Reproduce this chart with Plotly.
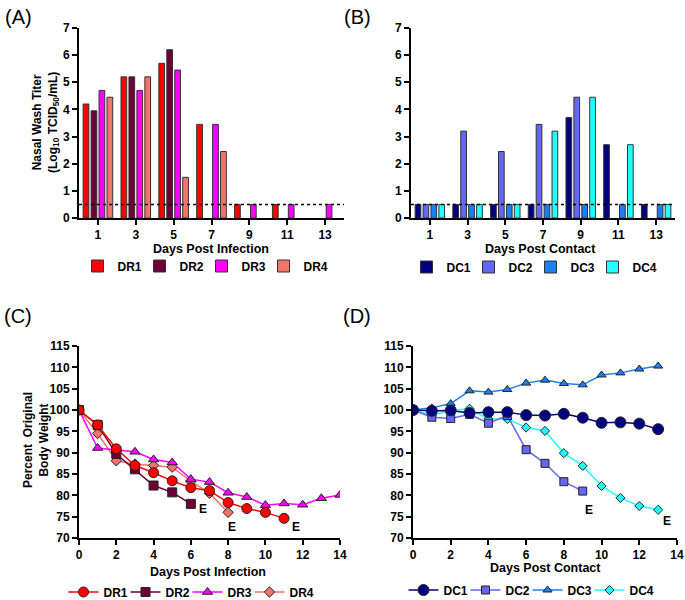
import plotly.graph_objects as go

# ---------------- data ----------------
bar_days = [1, 3, 5, 7, 9, 11, 13]
DR_names = ["DR1", "DR2", "DR3", "DR4"]
DR1_titer = [4.2, 5.2, 5.7, 3.45, 0.5, 0.5, None]
DR2_titer = [3.95, 5.2, 6.2, None, None, None, None]
DR3_titer = [4.7, 4.7, 5.45, 3.45, 0.5, 0.5, 0.5]
DR4_titer = [4.45, 5.2, 1.5, 2.45, None, None, None]

DC_names = ["DC1", "DC2", "DC3", "DC4"]
DC1_titer = [0.5, 0.5, 0.5, 0.5, 3.7, 2.7, 0.5]
DC2_titer = [0.5, 3.2, 2.45, 3.45, 4.45, None, None]
DC3_titer = [0.5, 0.5, 0.5, 0.5, 0.5, 0.5, 0.5]
DC4_titer = [0.5, 0.5, 0.5, 3.2, 4.45, 2.7, 0.5]

limit_of_detection = 0.5

DR1_days = list(range(0, 12))
DR1_weight = [100, 96.5, 90.9, 87.0, 85.3, 83.4, 81.8, 81.1, 78.3, 76.9, 76.0, 74.6]
DR2_days = list(range(0, 7))
DR2_weight = [100, 96.5, 89.7, 86.1, 82.3, 80.7, 78.0]
DR3_days = list(range(0, 15))
DR3_weight = [100, 91.1, 90.6, 90.2, 88.4, 87.7, 83.8, 83.1, 80.6, 79.6, 77.7, 78.1, 77.8, 79.3, 80.1]
DR4_days = list(range(0, 9))
DR4_weight = [100, 94.5, 88.1, 87.3, 87.0, 86.6, 83.3, 80.5, 76.0]

DC1_days = list(range(0, 14))
DC1_weight = [100, 99.8, 99.9, 99.3, 99.5, 99.5, 98.8, 98.7, 99.1, 98.2, 97.0, 97.1, 96.8, 95.5]
DC2_days = list(range(0, 10))
DC2_weight = [100, 98.3, 98.0, 99.0, 96.9, 98.7, 90.7, 87.5, 83.2, 81.0]
DC3_days = list(range(0, 14))
DC3_weight = [100, 100.5, 101.5, 104.5, 104.2, 104.8, 106.3, 107.0, 106.2, 105.9, 108.2, 108.7, 109.6, 110.3]
DC4_days = list(range(0, 14))
DC4_weight = [100, 98.8, 99.9, 100.3, 97.9, 97.9, 95.9, 95.1, 89.9, 86.9, 82.2, 79.4, 77.5, 76.6]

E_C = [(6.65, 76.8), (8.2, 72.6), (11.65, 72.6)]
E_D = [(9.35, 76.5), (13.45, 74.0)]

DR_colors = ["#FF0000", "#6E0038", "#FF00FF", "#F4736B"]
DC_colors = ["#000080", "#6666F5", "#1A80F5", "#22FFFF"]

W, H = 685, 600
def px(x): return x / W
def py(y): return 1 - y / H

FONT = "Liberation Sans, Arial, sans-serif"
tickfont = dict(family=FONT, size=12, color="black", weight="bold")

fig = go.Figure()

# ---------------- bars ----------------
for i, (name, vals, col) in enumerate(zip(DR_names, [DR1_titer, DR2_titer, DR3_titer, DR4_titer], DR_colors)):
    fig.add_trace(go.Bar(x=bar_days, y=vals, name=name, marker=dict(color=col, line=dict(color="#333333", width=1)),
                         xaxis="x", yaxis="y", legend="legend", offsetgroup=name,
                         legendwidth=30 if i == 3 else None))
for i, (name, vals, col) in enumerate(zip(DC_names, [DC1_titer, DC2_titer, DC3_titer, DC4_titer], DC_colors)):
    fig.add_trace(go.Bar(x=bar_days, y=vals, name=name, marker=dict(color=col, line=dict(color="#333333", width=1)),
                         xaxis="x2", yaxis="y2", legend="legend2", offsetgroup=name,
                         legendwidth=30 if i == 3 else None))

# ---------------- lines ----------------
DR_sym = ["circle", "square", "triangle-up", "diamond"]
DR_size = [10, 9, 9, 8]
DR_data = [(DR1_days, DR1_weight), (DR2_days, DR2_weight), (DR3_days, DR3_weight), (DR4_days, DR4_weight)]
for i in [3, 2, 1, 0]:
    fig.add_trace(go.Scatter(x=DR_data[i][0], y=DR_data[i][1], name=DR_names[i], mode="lines+markers",
                             line=dict(color=DR_colors[i], width=1.5),
                             marker=dict(symbol=DR_sym[i], size=DR_size[i], color=DR_colors[i], line=dict(color="#222222", width=1)),
                             xaxis="x3", yaxis="y3", legend="legend3", legendwidth=30 if i == 3 else None))
DC_sym = ["circle", "square", "triangle-up", "diamond"]
DC_size = [11, 8, 8, 7]
DC_data = [(DC1_days, DC1_weight), (DC2_days, DC2_weight), (DC3_days, DC3_weight), (DC4_days, DC4_weight)]
for i in [3, 2, 1, 0]:
    fig.add_trace(go.Scatter(x=DC_data[i][0], y=DC_data[i][1], name=DC_names[i], mode="lines+markers",
                             line=dict(color=DC_colors[i], width=1.5),
                             marker=dict(symbol=DC_sym[i], size=DC_size[i], color=DC_colors[i], line=dict(color="#222222", width=1)),
                             xaxis="x4", yaxis="y4", legend="legend4", legendwidth=30 if i == 3 else None))

# ---------------- axes ----------------
def xax(domain, anchor, tickvals, rng):
    return dict(domain=domain, anchor=anchor, range=rng, tickvals=tickvals, showline=True, linecolor="black",
                linewidth=2, ticks="outside", ticklen=5, tickwidth=2, tickcolor="black", showgrid=False,
                zeroline=False, tickfont=tickfont)
def yax(domain, anchor, rng, dtick):
    return dict(domain=domain, anchor=anchor, range=rng, dtick=dtick, showline=True, linecolor="black",
                linewidth=2, ticks="outside", ticklen=5, tickwidth=2, tickcolor="black", showgrid=False,
                zeroline=False, tickfont=tickfont)

yA = [py(218), py(28)]
yC = [py(538), py(346)]
fig.update_layout(
    width=W, height=H, margin=dict(l=0, r=0, t=0, b=0, autoexpand=False),
    paper_bgcolor="white", plot_bgcolor="white",
    barmode="group", bargap=0.16, bargroupgap=0.28,
    xaxis=xax([px(79), px(344)], "y", bar_days, [0, 14]),
    yaxis=yax(yA, "x", [0, 7], 1),
    xaxis2=xax([px(411), px(675)], "y2", bar_days, [0, 14]),
    yaxis2=yax(yA, "x2", [0, 7], 1),
    xaxis3=xax([px(79), px(340)], "y3", list(range(0, 15, 2)), [0, 14]),
    yaxis3=yax(yC, "x3", [70, 115], 5),
    xaxis4=xax([px(413), px(677)], "y4", list(range(0, 15, 2)), [0, 14]),
    yaxis4=yax(yC, "x4", [70, 115], 5),
    showlegend=True,
)

legfont = dict(family=FONT, size=12, color="black", weight="bold")
def leg(xc, yc, order="normal"):
    return dict(orientation="h", x=px(xc), y=py(yc), xanchor="center", yanchor="middle", font=legfont,
                itemwidth=30, entrywidth=17, entrywidthmode="pixels", traceorder=order,
                bgcolor="rgba(0,0,0,0)")
fig.update_layout(legend=leg(208, 266), legend2=leg(537, 267),
                  legend3=leg(194, 592, "reversed"), legend4=leg(534, 590, "reversed"))

# dotted detection limit lines
for xr, yr in [("x", "y"), ("x2", "y2")]:
    fig.add_shape(type="line", xref=xr, yref=yr, x0=0, x1=14, y0=limit_of_detection, y1=limit_of_detection,
                  line=dict(color="black", width=1.5, dash="dot"))

# ---------------- annotations ----------------
def ann(text, x, y, size=12, angle=0, bold=True, xref="paper", yref="paper"):
    fig.add_annotation(text=text, x=x, y=y, xref=xref, yref=yref, showarrow=False, textangle=angle,
                       font=dict(family=FONT, size=size, color="black", weight="bold" if bold else "normal"),
                       xanchor="center", yanchor="middle")

for lab, x, y in [("(A)", 18, 17), ("(B)", 357, 17), ("(C)", 18, 316), ("(D)", 357, 316)]:
    ann(lab, px(x), py(y), size=20, bold=False)

ann("Days Post Infection", px(211), py(249), size=12.5)
ann("Days Post Contact", px(540), py(249), size=12.5)
ann("Days Post Infection", px(208), py(572), size=12.5)
ann("Days Post Contact", px(545), py(568), size=12.5)

ann("Nasal Wash Titer<br>(Log<sub>10</sub> TCID<sub>50</sub>/mL)", px(46), py(123), size=12, angle=-90)
ann("Percent  Original<br>Body Weight", px(36), py(440), size=12, angle=-90)

for (x, y) in E_C:
    ann("E", x, y, size=12, xref="x3", yref="y3")
for (x, y) in E_D:
    ann("E", x, y, size=12, xref="x4", yref="y4")

fig.write_html("out.html", config={"displayModeBar": False},
               post_script="document.body.style.margin='0px';")
